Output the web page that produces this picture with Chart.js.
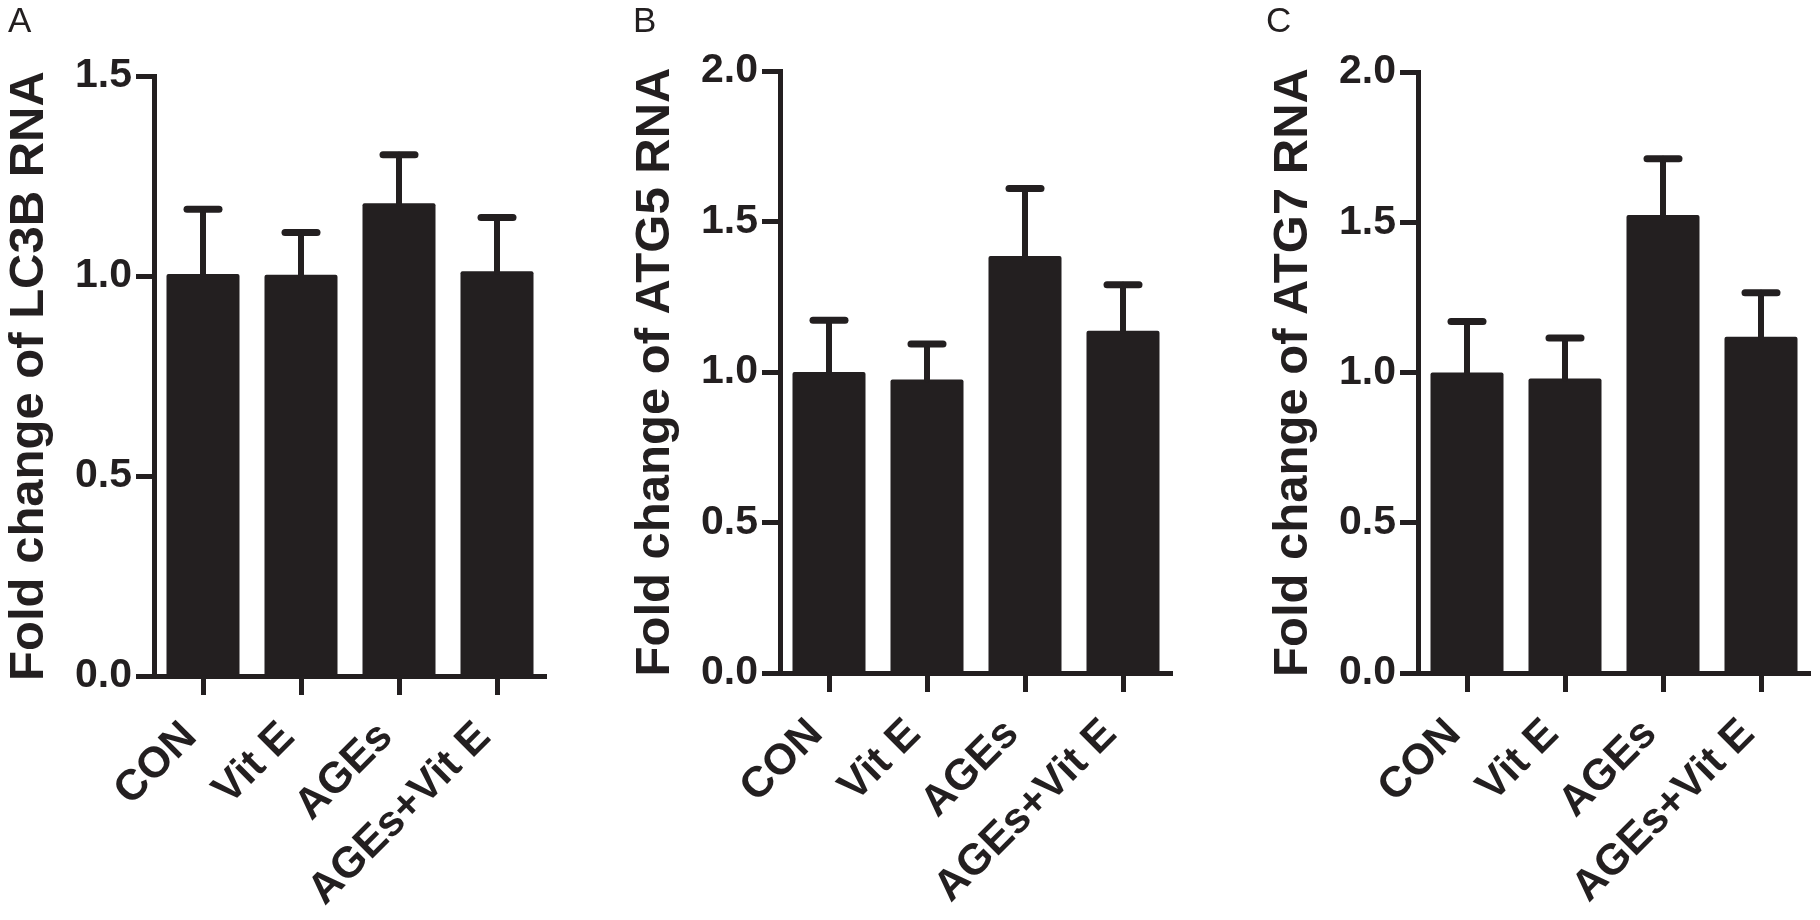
<!DOCTYPE html>
<html>
<head>
<meta charset="utf-8">
<script src="https://cdn.jsdelivr.net/npm/chart.js@4.4.1/dist/chart.umd.min.js"></script>
<style>
    html, body { margin: 0; padding: 0; background: #fff; }
    #wrap { position: relative; width: 1820px; height: 920px; overflow: hidden; background: #fff; }
    #wrap canvas { position: absolute; top: 0; }
    .panel-letter { position: absolute; top: 2px; font: 35px "Liberation Sans", Arial, sans-serif; line-height: 1; color: #231f20; }
</style>
</head>
<body>
<div id="wrap">
    <canvas id="chartA" width="560" height="920" style="left:0px"></canvas>
    <canvas id="chartB" width="560" height="920" style="left:626px"></canvas>
    <canvas id="chartC" width="556" height="920" style="left:1264px"></canvas>
    <div class="panel-letter" style="left:8px">A</div>
    <div class="panel-letter" style="left:633px">B</div>
    <div class="panel-letter" style="left:1266px">C</div>
</div>
<script>
var categories = ['CON', 'Vit E', 'AGEs', 'AGEs+Vit E'];

// mean and upper error (SEM)
var lc3bMean = [1.005, 1.003, 1.182, 1.012];
var lc3bSem = [0.162, 0.106, 0.121, 0.134];

var atg5Mean = [1.0, 0.975, 1.385, 1.137];
var atg5Sem = [0.172, 0.118, 0.225, 0.153];

var atg7Mean = [1.0, 0.98, 1.524, 1.119];
var atg7Sem = [0.17, 0.135, 0.187, 0.146];

var INK = '#231f20';

Chart.defaults.font.family = '"Liberation Sans", Arial, sans-serif';
Chart.defaults.color = INK;

var errorBarPlugin = {
    id: 'errorBars',
    afterDatasetsDraw: function (chart) {
        var ctx = chart.ctx;
        var yScale = chart.scales.y;
        var dataset = chart.data.datasets[0];
        var meta = chart.getDatasetMeta(0);
        ctx.save();
        ctx.strokeStyle = INK;
        ctx.lineCap = 'round';
        meta.data.forEach(function (bar, i) {
            var yTop = yScale.getPixelForValue(dataset.data[i] + dataset.sem[i]);
            ctx.lineWidth = 6;
            ctx.beginPath();
            ctx.moveTo(bar.x, bar.y);
            ctx.lineTo(bar.x, yTop);
            ctx.stroke();
            ctx.lineWidth = 7;
            ctx.beginPath();
            ctx.moveTo(bar.x - 16, yTop);
            ctx.lineTo(bar.x + 16, yTop);
            ctx.stroke();
        });
        ctx.restore();
    }
};

function buildChart(canvasId, title, means, sems, yMax, areaTop, areaBottom) {
    var canvas = document.getElementById(canvasId);
    var ctx = canvas.getContext('2d');

    return new Chart(ctx, {
        type: 'bar',
        data: {
            labels: categories,
            datasets: [{
                data: means,
                sem: sems,
                backgroundColor: INK,
                borderWidth: 0,
                borderRadius: 2,
                barPercentage: 0.745,
                categoryPercentage: 1.0
            }]
        },
        options: {
            responsive: false,
            animation: false,
            devicePixelRatio: 1,
            layout: {
                padding: { top: areaTop, right: canvas.width - 546, bottom: 0, left: 0 }
            },
            plugins: {
                legend: { display: false },
                tooltip: { enabled: false }
            },
            scales: {
                x: {
                    afterFit: function (scale) { scale.height = canvas.height - areaBottom; },
                    grid: {
                        offset: false,
                        drawOnChartArea: false,
                        drawTicks: true,
                        tickLength: 19,
                        tickWidth: 5,
                        tickColor: INK
                    },
                    border: { display: true, color: INK, width: 5 },
                    ticks: {
                        autoSkip: false,
                        minRotation: 45,
                        maxRotation: 45,
                        padding: 17,
                        labelOffset: -13,
                        color: INK,
                        font: { size: 43, weight: 'bold' }
                    }
                },
                y: {
                    min: 0,
                    max: yMax,
                    afterFit: function (scale) { scale.width = 154; },
                    grid: {
                        drawOnChartArea: false,
                        drawTicks: true,
                        tickLength: 18,
                        tickWidth: 5,
                        tickColor: INK
                    },
                    border: { display: true, color: INK, width: 5 },
                    ticks: {
                        stepSize: 0.5,
                        padding: 4,
                        color: INK,
                        font: { size: 41, weight: 'bold' },
                        callback: function (value) { return value.toFixed(1); }
                    },
                    title: {
                        display: true,
                        text: title,
                        color: INK,
                        padding: { top: 0, bottom: 0 },
                        font: { size: 49, weight: 'bold' }
                    }
                }
            }
        },
        plugins: [errorBarPlugin]
    });
}

buildChart('chartA', 'Fold change of LC3B RNA', lc3bMean, lc3bSem, 1.5, 76, 676);
buildChart('chartB', 'Fold change of ATG5 RNA', atg5Mean, atg5Sem, 2.0, 71, 673);
buildChart('chartC', 'Fold change of ATG7 RNA', atg7Mean, atg7Sem, 2.0, 72, 673);
</script>
</body>
</html>
